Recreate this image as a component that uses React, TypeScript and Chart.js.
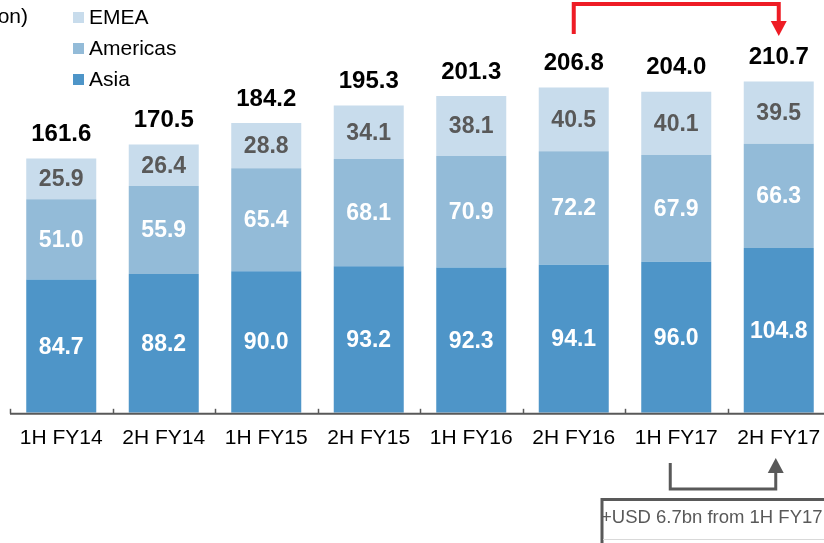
import React, { useEffect, useRef } from "react";
import { Chart, registerables } from "chart.js";

Chart.register(...registerables);

const categories = ["1H FY14", "2H FY14", "1H FY15", "2H FY15", "1H FY16", "2H FY16", "1H FY17", "2H FY17"];
const asia = [84.7, 88.2, 90.0, 93.2, 92.3, 94.1, 96.0, 104.8];
const americas = [51.0, 55.9, 65.4, 68.1, 70.9, 72.2, 67.9, 66.3];
const emea = [25.9, 26.4, 28.8, 34.1, 38.1, 40.5, 40.1, 39.5];
const totals = [161.6, 170.5, 184.2, 195.3, 201.3, 206.8, 204.0, 210.7];
const legendNames = ["EMEA", "Americas", "Asia"];
const unitLabel = "(USD billion)";
const noteText = "+USD 6.7bn from 1H FY17";

const FONT = "'Liberation Sans', Arial, Helvetica, sans-serif";
const COLORS = { asia: "#4e95c8", americas: "#93bbd8", emea: "#c8dcec" };
const W = 840;
const H = 543;

export default function App() {
  const ref = useRef<HTMLCanvasElement>(null);

  useEffect(() => {
    const canvas = ref.current!;
    const overlay = {
      id: "overlay",
      afterDatasetsDraw(chart: any) {
        const ctx = chart.ctx as CanvasRenderingContext2D;
        const area = chart.chartArea;
        const xs = chart.scales.x;
        ctx.save();
        const segColors = ["#ffffff", "#ffffff", "#595959"];
        const segData = [asia, americas, emea];
        ctx.textAlign = "center";
        ctx.textBaseline = "middle";
        ctx.font = `bold 23px ${FONT}`;
        for (let d = 0; d < 3; d++) {
          const meta = chart.getDatasetMeta(d);
          meta.data.forEach((el: any, i: number) => {
            ctx.fillStyle = segColors[d];
            ctx.fillText(segData[d][i].toFixed(1), el.x, (el.y + el.base) / 2 + 1);
          });
        }
        ctx.font = `bold 24px ${FONT}`;
        ctx.fillStyle = "#000000";
        const topMeta = chart.getDatasetMeta(2);
        topMeta.data.forEach((el: any, i: number) => {
          ctx.fillText(totals[i].toFixed(1), el.x, el.y - 24);
        });
        const axisY = area.bottom + 1;
        ctx.strokeStyle = "#595959";
        ctx.lineWidth = 2;
        ctx.beginPath();
        ctx.moveTo(area.left, axisY);
        ctx.lineTo(W, axisY);
        ctx.stroke();
        ctx.lineWidth = 1.5;
        const step = xs.getPixelForValue(1) - xs.getPixelForValue(0);
        for (let i = 0; i <= categories.length; i++) {
          const tx = Math.round(xs.getPixelForValue(0) - step / 2 + i * step) + 0.5;
          ctx.beginPath();
          ctx.moveTo(tx, axisY - 5);
          ctx.lineTo(tx, axisY);
          ctx.stroke();
        }
        ctx.restore();
      },
      afterDraw(chart: any) {
        const ctx = chart.ctx as CanvasRenderingContext2D;
        const xs = chart.scales.x;
        ctx.save();
        ctx.font = `21px ${FONT}`;
        ctx.fillStyle = "#000";
        ctx.textBaseline = "middle";
        ctx.textAlign = "right";
        ctx.fillText(unitLabel, 28, 17);
        const legColors = [COLORS.emea, COLORS.americas, COLORS.asia];
        ctx.textAlign = "left";
        legendNames.forEach((name, i) => {
          const cy = 17 + i * 31;
          ctx.fillStyle = legColors[i];
          ctx.fillRect(73, cy - 5, 11, 11);
          ctx.fillStyle = "#000";
          ctx.fillText(name, 89, cy + 1);
        });
        const x5 = xs.getPixelForValue(5);
        const x7 = xs.getPixelForValue(7);
        ctx.strokeStyle = "#ee1c25";
        ctx.fillStyle = "#ee1c25";
        ctx.lineWidth = 4;
        ctx.lineJoin = "miter";
        ctx.beginPath();
        ctx.moveTo(x5, 34);
        ctx.lineTo(x5, 4);
        ctx.lineTo(x7, 4);
        ctx.lineTo(x7, 24);
        ctx.stroke();
        ctx.beginPath();
        ctx.moveTo(x7 - 8, 21);
        ctx.lineTo(x7 + 8, 21);
        ctx.lineTo(x7, 36);
        ctx.closePath();
        ctx.fill();
        const x6 = xs.getPixelForValue(6);
        const gx1 = x6 - 6;
        const gx2 = x7 - 3;
        ctx.strokeStyle = "#595959";
        ctx.fillStyle = "#595959";
        ctx.lineWidth = 3;
        ctx.beginPath();
        ctx.moveTo(gx1, 463);
        ctx.lineTo(gx1, 489);
        ctx.lineTo(gx2, 489);
        ctx.lineTo(gx2, 470);
        ctx.stroke();
        ctx.beginPath();
        ctx.moveTo(gx2 - 8, 473);
        ctx.lineTo(gx2 + 8, 473);
        ctx.lineTo(gx2, 458);
        ctx.closePath();
        ctx.fill();
        ctx.lineWidth = 3;
        ctx.beginPath();
        ctx.moveTo(602, H + 5);
        ctx.lineTo(602, 499.5);
        ctx.lineTo(W + 5, 499.5);
        ctx.stroke();
        ctx.strokeStyle = "#d9d9d9";
        ctx.lineWidth = 1;
        ctx.beginPath();
        ctx.moveTo(603, 539.5);
        ctx.lineTo(W, 539.5);
        ctx.stroke();
        ctx.fillStyle = "#595959";
        ctx.font = `18.5px ${FONT}`;
        ctx.textAlign = "left";
        ctx.textBaseline = "middle";
        ctx.fillText(noteText, 601, 518);
        ctx.restore();
      },
    };

    const chart = new Chart(canvas, {
      type: "bar",
      data: {
        labels: categories,
        datasets: [
          { label: "Asia", data: asia, backgroundColor: COLORS.asia },
          { label: "Americas", data: americas, backgroundColor: COLORS.americas },
          { label: "EMEA", data: emea, backgroundColor: COLORS.emea },
        ],
      },
      options: {
        responsive: false,
        animation: false,
        devicePixelRatio: 1,
        layout: { padding: { left: 10, right: 10, top: 19.5, bottom: 79 } },
        plugins: { legend: { display: false }, tooltip: { enabled: false } },
        datasets: { bar: { barPercentage: 0.683, categoryPercentage: 1 } },
        scales: {
          x: {
            stacked: true,
            grid: { display: false, drawTicks: false },
            border: { display: false },
            ticks: {
              color: "#000",
              font: { family: FONT, size: 21 },
              padding: 13,
              maxRotation: 0,
              autoSkip: false,
            },
          },
          y: { stacked: true, display: false, min: 0, max: 250 },
        },
      },
      plugins: [overlay],
    });
    return () => chart.destroy();
  }, []);

  return (
    <div style={{ position: "fixed", left: 0, top: 0, width: 824, height: 543, overflow: "hidden", background: "#fff" }}>
      <canvas ref={ref} width={W} height={H} style={{ display: "block", width: W, height: H }} />
    </div>
  );
}
